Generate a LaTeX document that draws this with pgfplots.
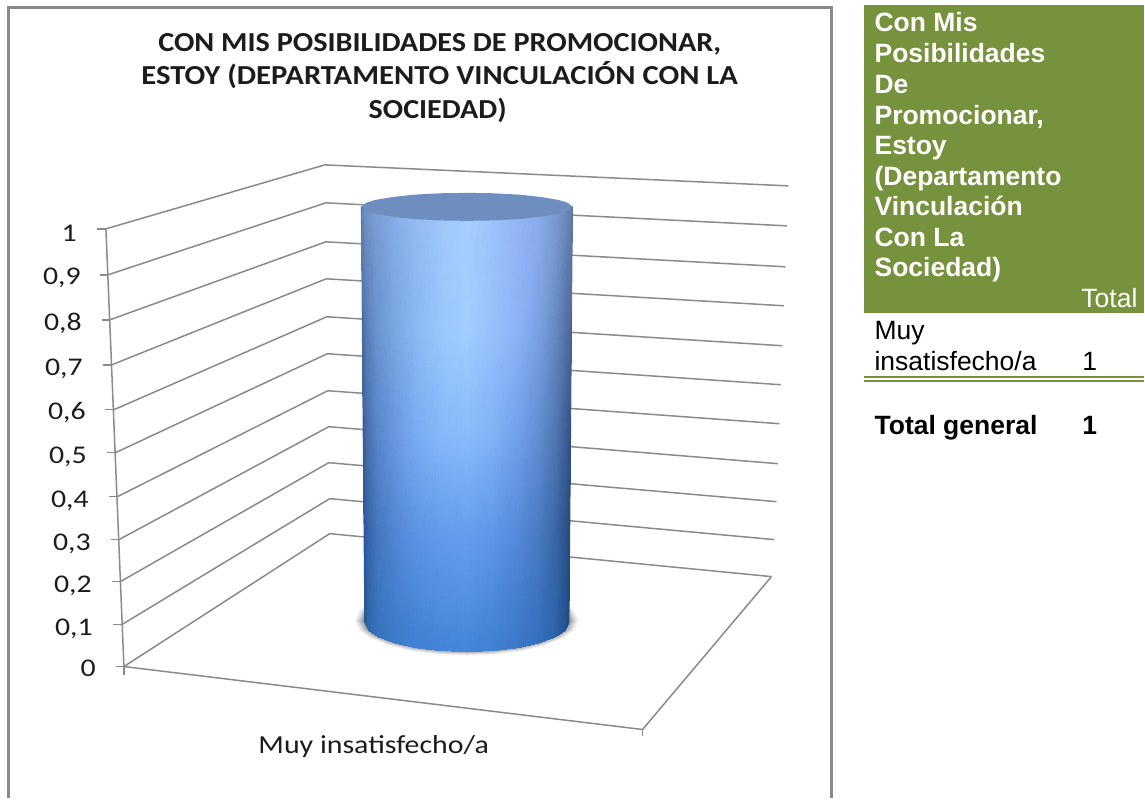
\documentclass[border=0pt]{standalone}
\usepackage{fontspec}
\usepackage{graphicx}
\usepackage{pgfplots}
\usepackage{pgfplotstable}
\pgfplotsset{compat=1.18}
\setmainfont{Liberation Sans}
\newfontfamily\calfont{Carlito}
\definecolor{gridc}{HTML}{8A8A8A}
\definecolor{framec}{HTML}{8A8A8A}
\definecolor{greenh}{HTML}{76923C}
\definecolor{capc}{HTML}{6E8EBF}
\definecolor{inkc}{HTML}{1C1C1C}
\newcommand{\hs}[2]{\scalebox{#1}[1]{#2}}
\pgfplotstableread{
u s
-1 0
-0.96 -0.28
-0.87 -0.49
-0.7 -0.71
-0.5 -0.87
-0.25 -0.97
0 -1
0.25 -0.97
0.5 -0.87
0.7 -0.71
0.87 -0.49
0.96 -0.28
1 0
0.96 0.28
0.87 0.49
0.7 0.71
0.5 0.87
0.25 0.97
0 1
-0.25 0.97
-0.5 0.87
-0.7 0.71
-0.87 0.49
-0.96 0.28
}\unitellipse
\begin{document}
\begin{tikzpicture}
\begin{axis}[
  hide axis, scale only axis, width=1145pt, height=799pt,
  xmin=0, xmax=1145, ymin=0, ymax=799, y dir=reverse, clip=false,
  grid line/.style={gridc, line width=1.5pt, no marks},
  every axis plot/.append style={no marks}
]
\path (axis cs:0,0) rectangle (axis cs:1145,799);
% frame
\addplot[framec, line width=3pt] coordinates {(9,799)(9,8)(832,8)(832,799)};
% walls: one line per tick value 1, 0.9, ... 0
\addplot[grid line] coordinates {(106,229)(325,165)(789,186)};
\addplot[grid line] coordinates {(108,275)(326,203)(787.5,226)};
\addplot[grid line] coordinates {(110,320)(326,242)(786,267)};
\addplot[grid line] coordinates {(112,365)(326.5,279)(784.5,306)};
\addplot[grid line] coordinates {(114,410)(327,317)(783,346)};
\addplot[grid line] coordinates {(115.5,453)(327.5,354)(781.5,385)};
\addplot[grid line] coordinates {(117.5,497)(328,391)(780,424)};
\addplot[grid line] coordinates {(119,540)(329,427)(778.5,464)};
\addplot[grid line] coordinates {(120.5,582)(329,463)(777,502)};
\addplot[grid line] coordinates {(122,625)(330,499)(775,540)};
\addplot[grid line] coordinates {(124,667)(330,534)(772,577)};
% floor and axis
\addplot[grid line] coordinates {(124,667)(643,730)(772,577)};
\addplot[grid line] coordinates {(106,229)(124,667)};
\addplot[grid line] coordinates {(97,229)(106,229)};
\addplot[grid line] coordinates {(100,275)(108,275)};
\addplot[grid line] coordinates {(102,320)(110,320)};
\addplot[grid line] coordinates {(103,365)(112,365)};
\addplot[grid line] coordinates {(105,410)(114,410)};
\addplot[grid line] coordinates {(107,453)(115.5,453)};
\addplot[grid line] coordinates {(109,497)(117.5,497)};
\addplot[grid line] coordinates {(111,540)(119,540)};
\addplot[grid line] coordinates {(112,582)(120.5,582)};
\addplot[grid line] coordinates {(113,625)(122,625)};
\addplot[grid line] coordinates {(116,667)(124,667)};
\addplot[grid line] coordinates {(124,667)(124,675)};
\addplot[grid line] coordinates {(643,730)(643,737)};
% shadow
\addplot[draw=none, fill=black, fill opacity=0.06] table[x expr=467+\thisrow{u}*112, y expr=621+\thisrow{s}*35] {\unitellipse};
\addplot[draw=none, fill=black, fill opacity=0.08] table[x expr=467+\thisrow{u}*110, y expr=621+\thisrow{s}*34] {\unitellipse};
\addplot[draw=none, fill=black, fill opacity=0.10] table[x expr=467+\thisrow{u}*108, y expr=621+\thisrow{s}*33] {\unitellipse};
\addplot[draw=none, fill=black, fill opacity=0.12] table[x expr=467+\thisrow{u}*106, y expr=621+\thisrow{s}*32] {\unitellipse};
\addplot[draw=none, fill=black, fill opacity=0.14] table[x expr=467+\thisrow{u}*104, y expr=621+\thisrow{s}*31] {\unitellipse};
% cylinder, value 1
\addplot[surf, shader=interp, mesh/rows=5, mesh/color input=explicit] table[meta=c] {
x y c
361.7 207 rgb255=100,130,180
365.9 210.9 rgb255=110,143,195
375.4 213.9 rgb255=120,155,210
393.3 216.9 rgb255=130,170,230
414.4 219.2 rgb255=145,185,240
440.8 220.6 rgb255=158,198,250
467.2 221 rgb255=165,206,255
493.6 220.6 rgb255=155,195,250
520 219.2 rgb255=145,180,245
541.1 216.9 rgb255=135,170,235
559 213.9 rgb255=120,150,205
568.5 210.9 rgb255=105,130,180
572.7 207 rgb255=100,125,170
362.6 311 rgb255=80,110,165
366.8 316 rgb255=90,125,185
376.2 319.8 rgb255=105,145,205
394 323.8 rgb255=120,165,225
414.9 326.7 rgb255=135,182,242
441 328.5 rgb255=152,198,252
467.2 329 rgb255=160,205,255
493.4 328.5 rgb255=150,192,252
519.5 326.7 rgb255=138,178,245
540.4 323.8 rgb255=122,160,225
558.2 319.8 rgb255=100,135,190
567.6 316 rgb255=85,112,165
571.8 311 rgb255=82,108,155
363.4 415 rgb255=60,95,150
367.6 421 rgb255=72,112,175
376.9 425.5 rgb255=88,132,200
394.6 430.3 rgb255=105,150,222
415.3 433.7 rgb255=120,170,240
441.3 435.9 rgb255=132,182,248
467.2 436.5 rgb255=136,186,250
493.1 435.9 rgb255=128,176,245
519.1 433.7 rgb255=112,158,232
539.8 430.3 rgb255=98,140,210
557.5 425.5 rgb255=80,118,175
566.8 421 rgb255=62,95,150
571 415 rgb255=55,85,135
364.3 519 rgb255=45,85,145
368.4 526 rgb255=55,100,165
377.7 531.3 rgb255=68,118,190
395.2 536.8 rgb255=80,132,210
415.7 540.8 rgb255=88,145,225
441.5 543.3 rgb255=95,152,232
467.2 544 rgb255=98,155,235
492.9 543.3 rgb255=92,148,228
518.7 540.8 rgb255=82,135,215
539.2 536.8 rgb255=72,122,195
556.7 531.3 rgb255=58,102,165
566 526 rgb255=45,85,140
570.1 519 rgb255=40,75,125
365.2 623 rgb255=38,88,150
369.3 631.1 rgb255=45,102,170
378.5 637.2 rgb255=52,115,190
395.8 643.6 rgb255=58,122,200
416.2 648.2 rgb255=62,128,210
441.7 651.1 rgb255=65,132,216
467.2 652 rgb255=66,134,218
492.7 651.1 rgb255=62,128,212
518.2 648.2 rgb255=58,120,200
538.6 643.6 rgb255=52,112,190
555.9 637.2 rgb255=44,100,170
565.1 631.1 rgb255=36,85,148
569.2 623 rgb255=32,75,132
};
% smooth the two silhouette edges
\addplot[color={rgb,255:red,90;green,120;blue,172}, line width=1.2pt] coordinates {(361.7,207)(362.6,311)};
\addplot[color={rgb,255:red,70;green,102;blue,157}, line width=1.2pt] coordinates {(362.6,311)(363.4,415)};
\addplot[color={rgb,255:red,52;green,90;blue,147}, line width=1.2pt] coordinates {(363.4,415)(364.3,519)};
\addplot[color={rgb,255:red,42;green,86;blue,147}, line width=1.2pt] coordinates {(364.3,519)(365.2,623)};
\addplot[color={rgb,255:red,90;green,116;blue,162}, line width=1.2pt] coordinates {(572.7,207)(571.8,311)};
\addplot[color={rgb,255:red,68;green,96;blue,145}, line width=1.2pt] coordinates {(571.8,311)(571,415)};
\addplot[color={rgb,255:red,48;green,80;blue,130}, line width=1.2pt] coordinates {(571,415)(570.1,519)};
\addplot[color={rgb,255:red,36;green,75;blue,128}, line width=1.2pt] coordinates {(570.1,519)(569.2,623)};
\addplot[draw=none, fill=capc] coordinates {(361.7,207)(365.9,203.1)(375.4,200.1)(393.3,197.1)(414.4,194.8)(440.8,193.4)(467.2,193)(493.6,193.4)(520,194.8)(541.1,197.1)(559,200.1)(568.5,203.1)(572.7,207)(568.5,210.9)(559,213.9)(541.1,216.9)(520,219.2)(493.6,220.6)(467.2,221)(440.8,220.6)(414.4,219.2)(393.3,216.9)(375.4,213.9)(365.9,210.9)};
% chart text
\begin{scope}[every node/.append style={font=\calfont\fontsize{25.5}{25.5}\selectfont, text=inkc, inner sep=0pt}]
\node[anchor=east] at (axis cs:77,233) {\hs{1.17}{1}};
\node[anchor=east] at (axis cs:81,278) {\hs{1.17}{0,9}};
\node[anchor=east] at (axis cs:82,324) {\hs{1.17}{0,8}};
\node[anchor=east] at (axis cs:83,369) {\hs{1.17}{0,7}};
\node[anchor=east] at (axis cs:86,413) {\hs{1.17}{0,6}};
\node[anchor=east] at (axis cs:87,457) {\hs{1.17}{0,5}};
\node[anchor=east] at (axis cs:89,501) {\hs{1.17}{0,4}};
\node[anchor=east] at (axis cs:91,544) {\hs{1.17}{0,3}};
\node[anchor=east] at (axis cs:92,586) {\hs{1.17}{0,2}};
\node[anchor=east] at (axis cs:93,629) {\hs{1.17}{0,1}};
\node[anchor=east] at (axis cs:96,669) {\hs{1.17}{0}};
\node[anchor=base, font=\calfont\fontsize{26}{26}\selectfont] at (axis cs:374,754) {\hs{1.15}{Muy insatisfecho/a}};
\node[anchor=base, font=\calfont\bfseries\fontsize{27.5}{27.5}\selectfont] at (axis cs:440,52) {\hs{1.1}{CON MIS POSIBILIDADES DE PROMOCIONAR,}};
\node[anchor=base, font=\calfont\bfseries\fontsize{27.5}{27.5}\selectfont] at (axis cs:440,85) {\hs{1.116}{ESTOY (DEPARTAMENTO VINCULACIÓN CON LA}};
\node[anchor=base, font=\calfont\bfseries\fontsize{27.5}{27.5}\selectfont] at (axis cs:438,119) {\hs{1.094}{SOCIEDAD)}};
\end{scope}
% table
\addplot[draw=none, fill=greenh] coordinates {(865,5)(1145,5)(1145,313)(865,313)};
\addplot[greenh, line width=1.6pt] coordinates {(865,377)(1145,377)};
\addplot[greenh, line width=1.6pt] coordinates {(865,381)(1145,381)};
\begin{scope}[every node/.append style={anchor=base west, inner sep=0pt, font=\fontsize{26.5}{26.5}\selectfont}]
\node[text=white, font=\bfseries\fontsize{26.5}{26.5}\selectfont] at (axis cs:875,32) {Con Mis};
\node[text=white, font=\bfseries\fontsize{26.5}{26.5}\selectfont] at (axis cs:875,63) {Posibilidades};
\node[text=white, font=\bfseries\fontsize{26.5}{26.5}\selectfont] at (axis cs:875,94) {De};
\node[text=white, font=\bfseries\fontsize{26.5}{26.5}\selectfont] at (axis cs:875,125) {Promocionar,};
\node[text=white, font=\bfseries\fontsize{26.5}{26.5}\selectfont] at (axis cs:875,155) {Estoy};
\node[text=white, font=\bfseries\fontsize{26.5}{26.5}\selectfont] at (axis cs:875,186) {(Departamento};
\node[text=white, font=\bfseries\fontsize{26.5}{26.5}\selectfont] at (axis cs:875,216) {Vinculación};
\node[text=white, font=\bfseries\fontsize{26.5}{26.5}\selectfont] at (axis cs:875,247) {Con La};
\node[text=white, font=\bfseries\fontsize{26.5}{26.5}\selectfont] at (axis cs:875,277) {Sociedad)};
\node[text=white] at (axis cs:1082,308) {Total};
\node[text=black] at (axis cs:875,340) {Muy};
\node[text=black] at (axis cs:875,371) {insatisfecho/a};
\node[text=black] at (axis cs:1083,371) {1};
\node[text=black, font=\bfseries\fontsize{26.5}{26.5}\selectfont] at (axis cs:875,435) {Total general};
\node[text=black, font=\bfseries\fontsize{26.5}{26.5}\selectfont] at (axis cs:1083,435) {1};
\end{scope}
\end{axis}
\end{tikzpicture}
\end{document}
